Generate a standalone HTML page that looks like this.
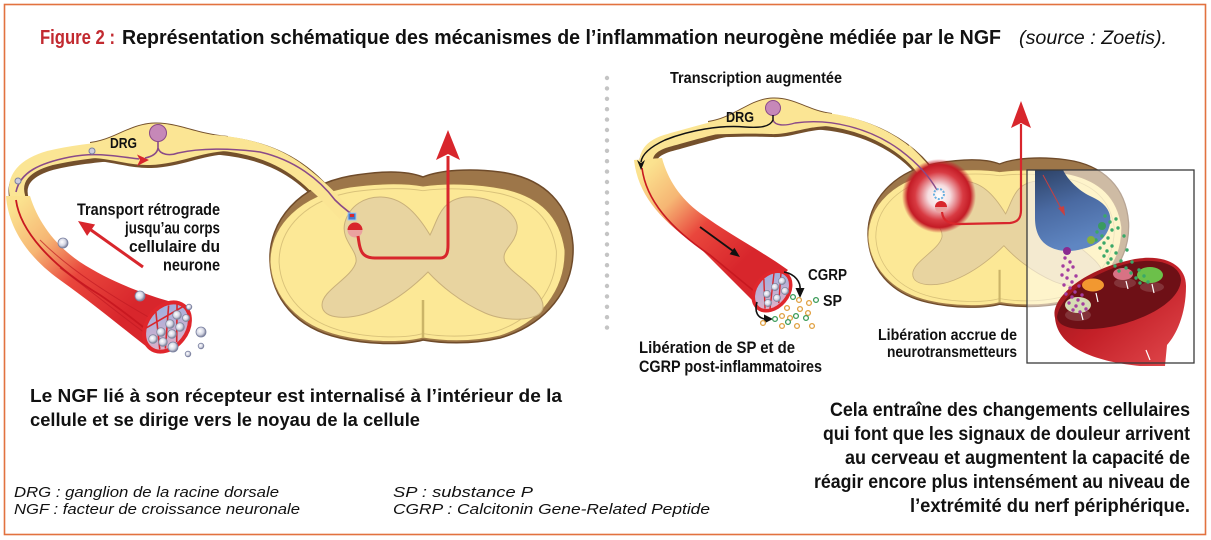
<!DOCTYPE html>
<html><head><meta charset="utf-8"><style>
html,body{margin:0;padding:0;background:#fff;}
svg{display:block;}
.b{font-family:"Liberation Sans Narrow","Liberation Sans",sans-serif;font-weight:bold;fill:#111;}
.i{font-family:"Liberation Sans Narrow","Liberation Sans",sans-serif;font-style:italic;fill:#111;}
</style></head><body>
<svg width="1211" height="540" viewBox="0 0 1211 540" xmlns="http://www.w3.org/2000/svg">
<defs>
<linearGradient id="fibL" gradientUnits="userSpaceOnUse" x1="20" y1="200" x2="130" y2="310">
<stop offset="0" stop-color="#fbe28f"/><stop offset="0.3" stop-color="#f6b674"/><stop offset="0.6" stop-color="#e9463c"/><stop offset="1" stop-color="#d8262c"/></linearGradient>
<linearGradient id="fibR" gradientUnits="userSpaceOnUse" x1="645" y1="170" x2="740" y2="265">
<stop offset="0" stop-color="#fbe28f"/><stop offset="0.3" stop-color="#f6b674"/><stop offset="0.6" stop-color="#e9463c"/><stop offset="1" stop-color="#d8262c"/></linearGradient>
<radialGradient id="ves" cx="0.4" cy="0.4" r="0.6"><stop offset="0" stop-color="#ffffff"/><stop offset="0.6" stop-color="#d4d6e4"/><stop offset="1" stop-color="#7b8098"/></radialGradient>
<radialGradient id="glow" cx="0.5" cy="0.5" r="0.5"><stop offset="0" stop-color="#ffffff"/><stop offset="0.3" stop-color="#f6dde0"/><stop offset="0.65" stop-color="#d83a42"/><stop offset="0.85" stop-color="#c41c26"/><stop offset="1" stop-color="#c41c26" stop-opacity="0"/></radialGradient>
<linearGradient id="blue" x1="0" y1="0" x2="0.3" y2="1"><stop offset="0" stop-color="#2d4266"/><stop offset="0.5" stop-color="#4a6aa2"/><stop offset="1" stop-color="#5f86c2"/></linearGradient>
<linearGradient id="bulb" x1="0" y1="0" x2="1" y2="1"><stop offset="0" stop-color="#8c1418"/><stop offset="0.5" stop-color="#c42028"/><stop offset="1" stop-color="#e24a4e"/></linearGradient>
<linearGradient id="bund" x1="0" y1="0" x2="1" y2="1"><stop offset="0" stop-color="#8fb0e6"/><stop offset="1" stop-color="#f0b0c0"/></linearGradient>
<g id="cord">
  <path d="M270 262 C268 220,300 185,350 176 C380 171,405 170,423 177 C440 170,470 168,500 172 C545 178,570 205,573 245 C575 290,545 325,500 338 C470 345,440 343,423 340 C405 345,370 345,340 338 C295 328,272 298,270 262 Z" fill="#9d7649" stroke="#6f4b2a" stroke-width="1.5"/>
  <path d="M270 262 C270 225,300 195,350 187 C380 183,405 183,423 186 C445 183,475 183,505 189 C540 197,560 216,565 250 C566 290,540 323,500 336 C470 343,440 341,423 338 C405 343,370 343,340 336 C298 326,272 298,270 262 Z" fill="#fce896" stroke="#a07a48" stroke-width="1"/>
  <path transform="translate(421 264) scale(0.94) translate(-421 -264)" d="M270 262 C270 225,300 195,350 187 C380 183,405 183,423 186 C445 183,475 183,505 189 C540 197,560 216,565 250 C566 290,540 323,500 336 C470 343,440 341,423 338 C405 343,370 343,340 336 C298 326,272 298,270 262 Z" fill="none" stroke="#d9c27a" stroke-width="1"/>
  <path d="M430 235 C438 220,440 200,465 197 C490 195,520 212,517 230 C515 245,500 250,505 262 C512 275,545 290,543 308 C540 322,505 322,485 313 C460 302,440 285,428 272 C415 285,395 302,370 312 C350 320,322 320,322 305 C322 290,352 278,356 262 C358 250,340 240,345 222 C350 205,365 197,380 197 C400 197,415 210,430 235 Z" fill="#e8d4a0" stroke="#c9b07a" stroke-width="1"/>
  <path d="M423 300 L423 338" stroke="#cbb468" stroke-width="2.5"/>
</g>
</defs>

<!-- frame -->
<rect x="4.5" y="4.5" width="1201" height="530" fill="none" stroke="#e2723f" stroke-width="1.6"/>

<!-- title -->
<text x="40" y="44" class="b" font-size="20" style="fill:#c22a30" textLength="75" lengthAdjust="spacingAndGlyphs">Figure 2 :</text>
<text x="122" y="44" class="b" font-size="20" textLength="879" lengthAdjust="spacingAndGlyphs">Représentation schématique des mécanismes de l’inflammation neurogène médiée par le NGF</text>
<text x="1019" y="44" class="i" font-size="19" textLength="148" lengthAdjust="spacingAndGlyphs">(source : Zoetis).</text>

<!-- separator dots -->
<g fill="#c4c4c4">
<circle cx="607" cy="78" r="2.2"/><circle cx="607" cy="88.4" r="2.2"/><circle cx="607" cy="98.8" r="2.2"/><circle cx="607" cy="109.2" r="2.2"/><circle cx="607" cy="119.6" r="2.2"/><circle cx="607" cy="130" r="2.2"/><circle cx="607" cy="140.4" r="2.2"/><circle cx="607" cy="150.8" r="2.2"/><circle cx="607" cy="161.2" r="2.2"/><circle cx="607" cy="171.6" r="2.2"/><circle cx="607" cy="182" r="2.2"/><circle cx="607" cy="192.4" r="2.2"/><circle cx="607" cy="202.8" r="2.2"/><circle cx="607" cy="213.2" r="2.2"/><circle cx="607" cy="223.6" r="2.2"/><circle cx="607" cy="234" r="2.2"/><circle cx="607" cy="244.4" r="2.2"/><circle cx="607" cy="254.8" r="2.2"/><circle cx="607" cy="265.2" r="2.2"/><circle cx="607" cy="275.6" r="2.2"/><circle cx="607" cy="286" r="2.2"/><circle cx="607" cy="296.4" r="2.2"/><circle cx="607" cy="306.8" r="2.2"/><circle cx="607" cy="317.2" r="2.2"/><circle cx="607" cy="327.6" r="2.2"/>
</g>

<!-- ============ LEFT FIGURE ============ -->
<path d="M18 198 C12 178,25 165,50 158 C75 152,100 150,120 148 C150 145,190 140,220 143 C260 147,290 160,315 185 C325 195,335 205,345 215" fill="none" stroke="#74502c" stroke-width="19" transform="translate(1.5 2.5)"/>
<path transform="translate(1.5 3)" d="M90 143 C115 140,130 124,155 123.5 C178 123,195 134,228 137 L228 151 C200 152,180 164,150 165 C125 165,110 158,90 158 Z" fill="#74502c"/>
<path transform="translate(0 -1)" d="M90 143 C115 140,130 124,155 123.5 C178 123,195 134,228 137 L228 151 C200 152,180 164,150 165 C125 165,110 158,90 158 Z" fill="#74502c"/>
<path d="M18 198 C12 178,25 165,50 158 C75 152,100 150,120 148 C150 145,190 140,220 143 C260 147,290 160,315 185 C325 195,335 205,345 215" fill="none" stroke="#fbe594" stroke-width="15"/>
<path d="M90 143 C115 140,130 124,155 123.5 C178 123,195 134,228 137 L228 151 C200 152,180 164,150 165 C125 165,110 158,90 158 Z" fill="#fbe594"/>
<!-- descending fiber -->
<path d="M6 196 C8 225,25 255,60 280 C95 305,125 330,147 347 L188 306 C160 300,115 285,80 262 C55 245,38 222,30 196 Z" fill="url(#fibL)"/>
<path d="M16 200 C20 230,50 265,100 295 C125 312,140 325,155 336" fill="none" stroke="#c81820" stroke-width="1.8"/>
<path d="M40 240 C70 270,110 295,150 318 M60 268 C90 290,120 315,145 333" fill="none" stroke="#c01a22" stroke-width="1" opacity="0.7"/>

<!-- cord -->
<use href="#cord"/>
<path d="M300 172 C315 183,330 197,345 214" fill="none" stroke="#fbe594" stroke-width="15"/>
<!-- purple axon -->
<path d="M16 192 C20 172,40 163,70 157 C95 152,115 156,139 159" fill="none" stroke="#8a4a88" stroke-width="1.6"/>
<polygon points="149,160 137,154.5 140,160 137,166" fill="#d8262c"/>
<path d="M158 141 L158 148 C157 155,150 157,145 158 M158 148 C160 155,170 156,178 153 C200 148,230 148,260 152 C295 160,320 180,335 200 C345 210,350 212,352 215" fill="none" stroke="#8a4a88" stroke-width="1.6"/>
<circle cx="158" cy="133" r="8.5" fill="#c688b8" stroke="#8a4a88" stroke-width="1"/>
<circle cx="18" cy="181" r="3" fill="#ccd" stroke="#7a80a0" stroke-width="1"/>
<circle cx="92" cy="151" r="3" fill="#ccd" stroke="#7a80a0" stroke-width="1"/>
<!-- receptor left -->
<rect x="348" y="213" width="8" height="7" fill="#4878c8" stroke="#a0c8f0" stroke-width="1"/>
<rect x="350" y="214" width="4" height="3" fill="#d8262c"/>
<circle cx="355" cy="230" r="7.5" fill="#eaa2a0"/>
<path d="M347.5 230 A7.5 7.5 0 0 1 362.5 230 Z" fill="#d8262c"/>
<!-- red pathway left -->
<path d="M358 236 C360 250,361 258,375 258 L440 258 C447 258,448 252,448 245 L448 156" fill="none" stroke="#d8262c" stroke-width="3"/>
<polygon points="448,130 436,160 448,154 460,160" fill="#d8262c"/>

<!-- left bundle -->
<g transform="translate(167 327) rotate(38)">
<ellipse cx="0" cy="0" rx="20" ry="27" fill="url(#bund)" stroke="#e0262c" stroke-width="4"/>
<path d="M-12 -18 L12 18 M-18 -5 L8 22 M-6 -24 L17 6 M0 -26 L-16 14" stroke="#d8262c" stroke-width="1.6" fill="none"/>
</g>
<g fill="url(#ves)" stroke="#8088a0" stroke-width="0.8">
<circle cx="177" cy="315" r="4.3"/><circle cx="170" cy="324" r="4.3"/><circle cx="180" cy="327" r="4.3"/><circle cx="161" cy="332" r="4.3"/><circle cx="172" cy="334" r="4.3"/><circle cx="153" cy="339" r="4.3"/><circle cx="163" cy="342" r="4.3"/><circle cx="186" cy="318" r="3.5"/>
</g>
<g fill="url(#ves)" stroke="#7a80a0" stroke-width="0.8">
<circle cx="63" cy="243" r="5"/><circle cx="140" cy="296" r="5"/><circle cx="189" cy="307" r="2.8"/><circle cx="201" cy="332" r="5"/><circle cx="173" cy="347" r="5"/><circle cx="201" cy="346" r="2.8"/><circle cx="188" cy="354" r="2.8"/>
</g>
<!-- transport arrow -->
<path d="M143 267 L91 230" stroke="#d8262c" stroke-width="3"/>
<polygon points="78,221 95.1,224.5 87.1,235.9" fill="#d8262c"/>

<!-- left labels -->
<text x="110" y="148" class="b" font-size="15" textLength="27" lengthAdjust="spacingAndGlyphs">DRG</text>
<text x="77" y="215" class="b" font-size="17" textLength="143" lengthAdjust="spacingAndGlyphs">Transport rétrograde</text>
<text x="125" y="233.5" class="b" font-size="17" textLength="95" lengthAdjust="spacingAndGlyphs">jusqu’au corps</text>
<text x="129" y="252" class="b" font-size="17" textLength="91" lengthAdjust="spacingAndGlyphs">cellulaire du</text>
<text x="163" y="270.5" class="b" font-size="17" textLength="57" lengthAdjust="spacingAndGlyphs">neurone</text>

<text x="30" y="402" class="b" font-size="18" textLength="532" lengthAdjust="spacingAndGlyphs">Le NGF lié à son récepteur est internalisé à l’intérieur de la</text>
<text x="30" y="426" class="b" font-size="18" textLength="390" lengthAdjust="spacingAndGlyphs">cellule et se dirige vers le noyau de la cellule</text>

<!-- legends -->
<text x="14" y="497" class="i" font-size="15" textLength="265" lengthAdjust="spacingAndGlyphs">DRG : ganglion de la racine dorsale</text>
<text x="14" y="514" class="i" font-size="15" textLength="286" lengthAdjust="spacingAndGlyphs">NGF : facteur de croissance neuronale</text>
<text x="393" y="497" class="i" font-size="15" textLength="140" lengthAdjust="spacingAndGlyphs">SP : substance P</text>
<text x="393" y="514" class="i" font-size="15" textLength="317" lengthAdjust="spacingAndGlyphs">CGRP : Calcitonin Gene-Related Peptide</text>

<!-- ============ RIGHT FIGURE ============ -->
<path d="M648 172 C642 155,650 145,670 140 C695 133,715 127,740 123 C770 118,800 116,830 120 C865 125,895 140,915 160 C925 170,932 180,938 190" fill="none" stroke="#74502c" stroke-width="17" transform="translate(1.5 2.5)"/>
<path transform="translate(1.5 3)" d="M708 122 C735 118,750 99,773 98.5 C795 98,808 111,832 114 L832 126 C805 126,790 135,770 134 C745 133,730 134,708 134.5 Z" fill="#74502c"/>
<path transform="translate(0 -1)" d="M708 122 C735 118,750 99,773 98.5 C795 98,808 111,832 114 L832 126 C805 126,790 135,770 134 C745 133,730 134,708 134.5 Z" fill="#74502c"/>
<path d="M648 172 C642 155,650 145,670 140 C695 133,715 127,740 123 C770 118,800 116,830 120 C865 125,895 140,915 160 C925 170,932 180,938 190" fill="none" stroke="#fbe594" stroke-width="13"/>
<path d="M708 122 C735 118,750 99,773 98.5 C795 98,808 111,832 114 L832 126 C805 126,790 135,770 134 C745 133,730 134,708 134.5 Z" fill="#fbe594"/>
<path d="M634 160 C638 195,660 220,700 248 L757 305 L788 270 C760 250,730 235,700 213 C680 198,668 180,662 158 Z" fill="url(#fibR)"/>
<path d="M642 168 C646 200,670 228,710 255 L760 296" fill="none" stroke="#c81820" stroke-width="1.6"/>

<!-- right cord -->
<g transform="matrix(0.86 0 0 0.86 635.8 11.8)"><use href="#cord"/></g>
<path d="M905 150 C918 162,928 175,936 188" fill="none" stroke="#fbe594" stroke-width="13"/>
<circle cx="939" cy="196" r="37" fill="url(#glow)"/>
<path d="M773 120 C775 126,785 126,795 123 C830 118,870 128,900 150 C920 165,930 178,937 190" fill="none" stroke="#8a4a88" stroke-width="1.4"/>
<circle cx="773" cy="108" r="7.5" fill="#c688b8" stroke="#8a4a88" stroke-width="1"/>
<!-- black arrows -->
<path d="M773 115 L773 120 C770 127,760 128,745 127 C720 125,690 130,665 140 C650 147,642 154,641 162" fill="none" stroke="#111" stroke-width="1.5"/>
<polygon points="641,170 637,160 641,163 645,160" fill="#111"/>
<path d="M700 227 L733 251" stroke="#111" stroke-width="1.8"/>
<polygon points="740,257 729.6,254.2 734.4,247.8" fill="#111"/>
<!-- receptor right -->
<circle cx="939" cy="194" r="5" fill="none" stroke="#6ab0e0" stroke-width="2" stroke-dasharray="2 1.5"/>
<circle cx="941" cy="207" r="6" fill="#eaa2a0"/>
<path d="M935 207 A6 6 0 0 1 947 207 Z" fill="#d8262c"/>
<!-- red pathway right -->
<path d="M942 212 C943 222,950 224,960 224 L1010 223 C1018 222,1021 218,1021 210 L1021 124" fill="none" stroke="#d8262c" stroke-width="2.2"/>
<polygon points="1021,101 1011,128 1021,123 1031,128" fill="#d8262c"/>

<!-- right bundle -->
<g transform="translate(772 291) rotate(40)">
<ellipse cx="0" cy="0" rx="16" ry="22" fill="url(#bund)" stroke="#e0262c" stroke-width="3.5"/>
<path d="M-10 -15 L10 15 M-14 -4 L6 18 M-5 -20 L13 5" stroke="#d8262c" stroke-width="1.4" fill="none"/>
</g>
<g fill="url(#ves)" stroke="#8088a0" stroke-width="0.7">
<circle cx="782" cy="281" r="3.6"/><circle cx="775" cy="287" r="3.6"/><circle cx="785" cy="291" r="3.6"/><circle cx="767" cy="294" r="3.6"/><circle cx="777" cy="298" r="3.6"/><circle cx="768" cy="303" r="3.6"/>
</g>
<path d="M784 272 C795 274,801 282,800 290" fill="none" stroke="#111" stroke-width="1.6"/>
<polygon points="800,298 795.5,288 804.5,288" fill="#111"/>
<path d="M757 302 C754 312,758 318,765 319" fill="none" stroke="#111" stroke-width="1.6"/>
<polygon points="773,319 764,314.5 764,323.5" fill="#111"/>
<g fill="#fff" stroke="#e0a040" stroke-width="1.3">
<circle cx="799" cy="300" r="2.4"/><circle cx="809" cy="303" r="2.4"/><circle cx="787" cy="308" r="2.4"/><circle cx="800" cy="309" r="2.4"/><circle cx="782" cy="316" r="2.4"/><circle cx="808" cy="313" r="2.4"/><circle cx="763" cy="323" r="2.4"/><circle cx="782" cy="326" r="2.4"/><circle cx="797" cy="326" r="2.4"/><circle cx="812" cy="326" r="2.4"/><circle cx="790" cy="318" r="2.4"/>
</g>
<g fill="#fff" stroke="#3a9a58" stroke-width="1.3">
<circle cx="793" cy="297" r="2.4"/><circle cx="816" cy="300" r="2.4"/><circle cx="775" cy="319" r="2.4"/><circle cx="796" cy="316" r="2.4"/><circle cx="806" cy="318" r="2.4"/><circle cx="788" cy="322" r="2.4"/>
</g>

<!-- zoom box -->
<rect x="1027" y="170" width="167" height="193" fill="#fff" fill-opacity="0.5"/>
<path d="M1035 170 L1063 170 C1068 180,1078 190,1090 196 C1106 203,1112 212,1110 224 C1107 238,1097 246,1082 249 C1072 252,1060 252,1050 247 C1040 242,1035 232,1035 218 Z" fill="url(#blue)"/>
<path d="M1043 175 L1062 210" stroke="#c84040" stroke-width="1"/>
<polygon points="1065,216 1058,208 1064,206" fill="#c84040"/>
<path d="M1055 318 C1050 300,1080 270,1135 259 C1165 254,1186 265,1186 286 C1186 315,1176 335,1167 345 L1165 366 L1140 366 C1100 362,1058 350,1055 318 Z" fill="url(#bulb)"/>
<path d="M1057 317 C1060 295,1095 270,1135 262 C1160 258,1180 265,1181 280 C1180 300,1150 318,1115 326 C1085 332,1058 330,1057 317 Z" fill="#6e1016"/>
<ellipse cx="1078" cy="315" rx="13" ry="6" fill="#fff" fill-opacity="0.15"/>
<ellipse cx="1125" cy="283" rx="11" ry="5" fill="#fff" fill-opacity="0.15"/>
<ellipse cx="1152" cy="287" rx="12" ry="5" fill="#fff" fill-opacity="0.15"/>
<ellipse cx="1093" cy="285" rx="11" ry="6.5" fill="#f29830"/>
<ellipse cx="1078" cy="305" rx="13" ry="8" fill="#d6dcb4"/>
<ellipse cx="1123" cy="274" rx="10" ry="6" fill="#d87284"/>
<ellipse cx="1150" cy="275" rx="13" ry="8" fill="#6cc04a"/>
<g stroke="#fff" stroke-width="1.2">
<path d="M1096 293 L1098 302 M1081 312 L1083 320 M1126 281 L1128 289 M1152 284 L1154 293 M1146 350 L1150 360"/>
</g>
<g fill="#a43da0">
<circle cx="1065" cy="258" r="1.7"/><circle cx="1070" cy="262" r="1.7"/><circle cx="1063" cy="266" r="1.7"/><circle cx="1068" cy="270" r="1.7"/><circle cx="1073" cy="267" r="1.7"/><circle cx="1062" cy="275" r="1.7"/><circle cx="1067" cy="278" r="1.7"/><circle cx="1072" cy="282" r="1.7"/><circle cx="1076" cy="276" r="1.7"/><circle cx="1064" cy="285" r="1.7"/><circle cx="1070" cy="288" r="1.7"/><circle cx="1075" cy="292" r="1.7"/><circle cx="1079" cy="286" r="1.7"/><circle cx="1066" cy="294" r="1.7"/><circle cx="1072" cy="297" r="1.7"/><circle cx="1078" cy="300" r="1.7"/><circle cx="1082" cy="295" r="1.7"/><circle cx="1069" cy="303" r="1.7"/><circle cx="1076" cy="306" r="1.7"/><circle cx="1083" cy="304" r="1.7"/><circle cx="1073" cy="310" r="1.7"/><circle cx="1080" cy="312" r="1.7"/><circle cx="1086" cy="309" r="1.7"/>
</g>
<g fill="#3aa868">
<circle cx="1097" cy="232" r="1.7"/><circle cx="1102" cy="236" r="1.7"/><circle cx="1096" cy="240" r="1.7"/><circle cx="1104" cy="243" r="1.7"/><circle cx="1108" cy="238" r="1.7"/><circle cx="1100" cy="248" r="1.7"/><circle cx="1107" cy="251" r="1.7"/><circle cx="1112" cy="246" r="1.7"/><circle cx="1104" cy="256" r="1.7"/><circle cx="1111" cy="259" r="1.7"/><circle cx="1116" cy="253" r="1.7"/><circle cx="1108" cy="263" r="1.7"/><circle cx="1115" cy="266" r="1.7"/><circle cx="1121" cy="261" r="1.7"/><circle cx="1119" cy="271" r="1.7"/><circle cx="1126" cy="268" r="1.7"/><circle cx="1131" cy="273" r="1.7"/><circle cx="1136" cy="278" r="1.7"/><circle cx="1140" cy="283" r="1.7"/><circle cx="1144" cy="276" r="1.7"/><circle cx="1148" cy="282" r="1.7"/><circle cx="1139" cy="270" r="1.7"/><circle cx="1132" cy="262" r="1.7"/><circle cx="1105" cy="216" r="1.7"/><circle cx="1110" cy="222" r="1.7"/><circle cx="1116" cy="219" r="1.7"/><circle cx="1118" cy="228" r="1.7"/><circle cx="1112" cy="230" r="1.7"/><circle cx="1124" cy="236" r="1.7"/><circle cx="1127" cy="250" r="1.7"/>
</g>
<circle cx="1067" cy="251" r="4" fill="#8a2a90"/>
<circle cx="1091" cy="240" r="4" fill="#86b040"/>
<circle cx="1102" cy="226" r="4" fill="#3a9a60"/>
<rect x="1027" y="170" width="167" height="193" fill="none" stroke="#3a3a3a" stroke-width="1.3"/>

<!-- right labels -->
<text x="670" y="83" class="b" font-size="16" textLength="172" lengthAdjust="spacingAndGlyphs">Transcription augmentée</text>
<text x="726" y="122" class="b" font-size="15" textLength="28" lengthAdjust="spacingAndGlyphs">DRG</text>
<text x="808" y="280" class="b" font-size="16" textLength="39" lengthAdjust="spacingAndGlyphs">CGRP</text>
<text x="823" y="306" class="b" font-size="16" textLength="19" lengthAdjust="spacingAndGlyphs">SP</text>
<text x="639" y="353" class="b" font-size="16.5" textLength="156" lengthAdjust="spacingAndGlyphs">Libération de SP et de</text>
<text x="639" y="372" class="b" font-size="16.5" textLength="183" lengthAdjust="spacingAndGlyphs">CGRP post-inflammatoires</text>
<text x="878" y="340" class="b" font-size="16" textLength="139" lengthAdjust="spacingAndGlyphs">Libération accrue de</text>
<text x="887" y="357" class="b" font-size="16" textLength="130" lengthAdjust="spacingAndGlyphs">neurotransmetteurs</text>

<text x="830" y="416" class="b" font-size="19" textLength="360" lengthAdjust="spacingAndGlyphs">Cela entraîne des changements cellulaires</text>
<text x="823" y="440" class="b" font-size="19" textLength="367" lengthAdjust="spacingAndGlyphs">qui font que les signaux de douleur arrivent</text>
<text x="845" y="464" class="b" font-size="19" textLength="345" lengthAdjust="spacingAndGlyphs">au cerveau et augmentent la capacité de</text>
<text x="814" y="488" class="b" font-size="19" textLength="376" lengthAdjust="spacingAndGlyphs">réagir encore plus intensément au niveau de</text>
<text x="910" y="512" class="b" font-size="19" textLength="280" lengthAdjust="spacingAndGlyphs">l’extrémité du nerf périphérique.</text>
</svg>
</body></html>
